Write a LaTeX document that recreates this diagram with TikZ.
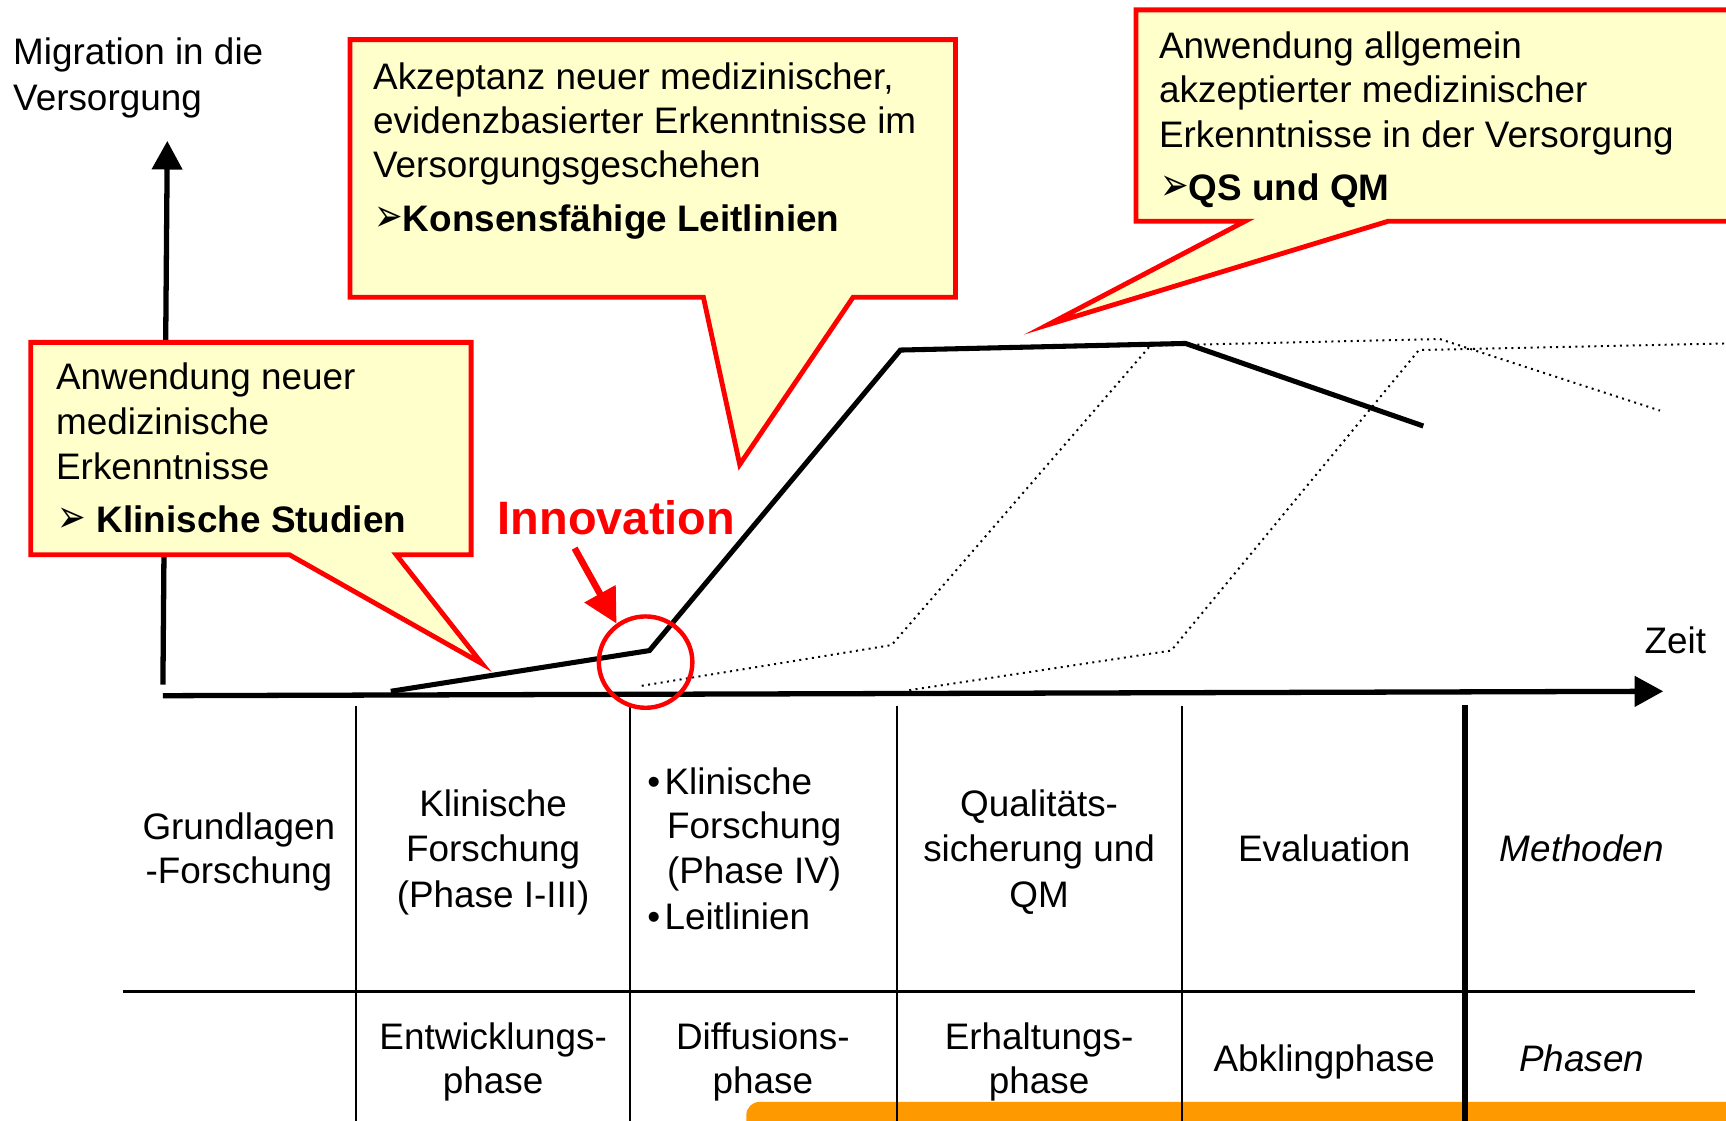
\documentclass[tikz,border=0pt]{standalone}
\usepackage{fontspec}
\usepackage{graphicx}
\setmainfont{Liberation Sans}
\newfontfamily\dejavu{DejaVu Sans}
\usetikzlibrary{arrows.meta,shapes.geometric}
\definecolor{callfill}{HTML}{FFFFCC}
\definecolor{callred}{HTML}{FF0000}
\definecolor{barorange}{HTML}{FF9900}
\newcommand{\pfeilglyph}{\scalebox{1}[1.35]{➢}}
\begin{document}
\begin{tikzpicture}[x=0.5pt,y=-0.5pt,
  txt/.style={font=\fontsize{16.75pt}{20.5pt}\selectfont, inner sep=0pt, outer sep=0pt},
  lt/.style={txt, anchor=base west},
  ct/.style={txt, anchor=base},
  pf/.style={lt, font=\dejavu\fontsize{15.5pt}{16pt}\selectfont},
  bt/.style={lt, font=\fontsize{16.75pt}{20.5pt}\selectfont\bfseries},
  callout/.style={draw=callred, fill=callfill, line width=2.2pt, line join=miter, miter limit=15},
  curve/.style={line width=2.3pt, line join=miter},
  ghost/.style={line width=0.9pt, dotted},
  axisline/.style={line width=2.4pt, -{Triangle[length=13pt,width=13.5pt]}},
  tablerule/.style={line width=0.9pt},
  boldrule/.style={line width=2.7pt},
  hrule/.style={line width=1.5pt},
]
\useasboundingbox (0,0) rectangle (1568,1018);
\clip (0,0) rectangle (1568,1018);

% orange bar
\fill[barorange, rounded corners=6pt] (678,1001) rectangle (1640,1080);

% table rules
\draw[tablerule] (323,641) -- (323,1030);
\draw[tablerule] (572,641) -- (572,1030);
\draw[tablerule] (815,641) -- (815,1030);
\draw[tablerule] (1074,641) -- (1074,1030);
\draw[boldrule] (1331,640) -- (1331,1030);
\draw[hrule] (112,901) -- (1540,901);

% axes
\coordinate (yfoot) at (148,622);
\coordinate (ytip) at (152,128);
\draw[axisline] (yfoot) -- (ytip);
\coordinate (xfoot) at (148,632);
\coordinate (xtip) at (1511,628);
\draw[axisline] (xfoot) -- (xtip);
\node[ct] (zeit) at (1522,594) {Zeit};
\node[lt] (mig1) at (12,59) {Migration in die};
\node[lt] (mig2) at (12,100) {Versorgung};

% dotted shifted curves
\draw[ghost] (583,623) -- (810,586) -- (1045,314) -- (1308,308) -- (1508,373);
\draw[ghost] (826,627) -- (1064,591) -- (1289,318) -- (1568,312);

% main curve
\coordinate (m0) at (355,628);
\coordinate (m1) at (590,591);
\coordinate (m2) at (818,318);
\coordinate (m3) at (1077,312);
\coordinate (m4) at (1293,387);
\draw[curve] (m0) -- (m1) -- (m2) -- (m3) -- (m4);

% innovation
\node[ellipse, draw=callred, line width=2pt, minimum width=42.5pt, minimum height=41.5pt, inner sep=0pt] (circ) at (586.5,601.5) {};
\node[anchor=base, inner sep=0pt, text=callred, font=\fontsize{21.3pt}{24pt}\selectfont\bfseries] (innov) at (560,486) {Innovation};
\coordinate (innovstart) at (522,498);
\draw[callred, line width=3pt, -{Triangle[length=15.5pt,width=15.5pt]}] (innovstart) -- (circ.127);

% callouts
\draw[callout] (28,311) -- (428,311) -- (428,504) -- (360,504) -- (438,603) -- (263,504) -- (28,504) -- cycle;
\draw[callout] (318,36) -- (868,36) -- (868,270) -- (775,270) -- (672,422) -- (639,270) -- (318,270) -- cycle;
\draw[callout] (1032,9) -- (1620,9) -- (1620,201) -- (1261,201) -- (952,295) -- (1131,201) -- (1032,201) -- cycle;

% callout texts
\node[lt] (c1a) at (51,354) {Anwendung neuer};
\node[lt] (c1b) at (51,395) {medizinische};
\node[lt] (c1c) at (51,436) {Erkenntnisse};
\node[pf] (c1p) at (52,484) {\pfeilglyph};
\node[bt] (c1d) at (88,484) {Klinische Studien};

\node[lt] (c2a) at (339,81) {Akzeptanz neuer medizinischer,};
\node[lt] (c2b) at (339,121) {evidenzbasierter Erkenntnisse im};
\node[lt] (c2c) at (339,161) {Versorgungsgeschehen};
\node[pf] (c2p) at (340,210) {\pfeilglyph};
\node[bt] (c2d) at (366,210) {Konsensfähige Leitlinien};

\node[lt] (c3a) at (1053,53) {Anwendung allgemein};
\node[lt] (c3b) at (1053,93) {akzeptierter medizinischer};
\node[lt] (c3c) at (1053,134) {Erkenntnisse in der Versorgung};
\node[pf] (c3p) at (1054,182) {\pfeilglyph};
\node[bt] (c3d) at (1080,182) {QS und QM};

% table row 1
\node[ct] (t1a) at (217,763) {Grundlagen};
\node[ct] (t1b) at (217,803) {-Forschung};
\node[ct] (t2a) at (448,742) {Klinische};
\node[ct] (t2b) at (448,783) {Forschung};
\node[ct] (t2c) at (448,824) {(Phase I-III)};
\node[lt] (t3a) at (588,722) {•\kern2pt Klinische};
\node[lt] (t3b) at (606,762) {Forschung};
\node[lt] (t3c) at (606,803) {(Phase IV)};
\node[lt] (t3d) at (588,844) {•\kern2pt Leitlinien};
\node[ct] (t4a) at (944,742) {Qualitäts-};
\node[ct] (t4b) at (944,783) {sicherung und};
\node[ct] (t4c) at (944,824) {QM};
\node[ct] (t5) at (1203,783) {Evaluation};
\node[ct, font=\fontsize{16.75pt}{20.5pt}\selectfont\itshape] (t6) at (1437,783) {Methoden};

% table row 2
\node[ct] (p2a) at (448,953) {Entwicklungs-};
\node[ct] (p2b) at (448,993) {phase};
\node[ct] (p3a) at (693,953) {Diffusions-};
\node[ct] (p3b) at (693,993) {phase};
\node[ct] (p4a) at (944,953) {Erhaltungs-};
\node[ct] (p4b) at (944,993) {phase};
\node[ct] (p5) at (1203,973) {Abklingphase};
\node[ct, font=\fontsize{16.75pt}{20.5pt}\selectfont\itshape] (p6) at (1437,973) {Phasen};
\end{tikzpicture}
\end{document}
